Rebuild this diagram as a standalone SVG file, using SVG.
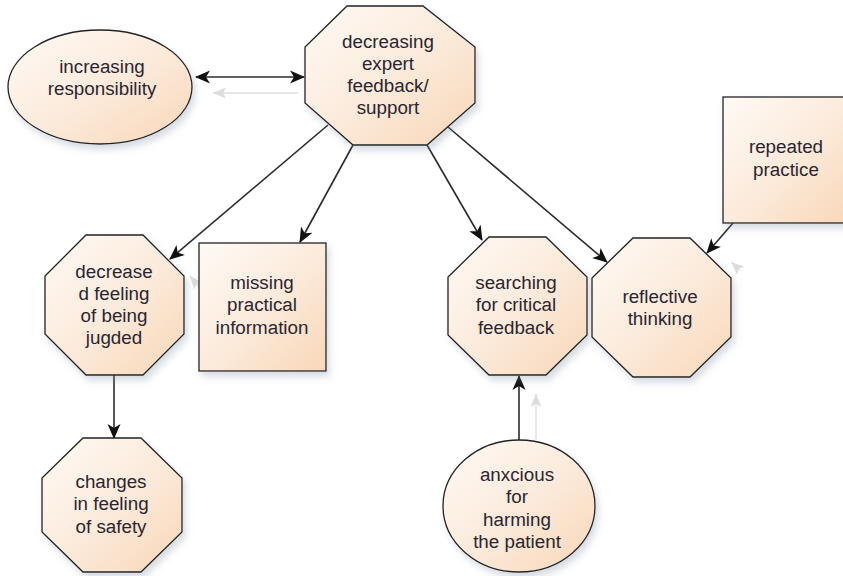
<svg xmlns="http://www.w3.org/2000/svg" width="843" height="576" viewBox="0 0 843 576">
<style>
  .node{fill:url(#peach);stroke:#222;stroke-width:1.3;filter:url(#shadow)}
  .lbl{font-family:"Liberation Sans",Arial,sans-serif;font-size:18.8px;fill:#2a2630;text-anchor:middle}
  .conn{stroke:#2b2b2b;stroke-width:1.6;fill:none}
  .ghost{stroke:#dcdcdc;stroke-width:1.3;fill:none}
</style>
<defs>
  <linearGradient id="peach" x1="0" y1="0" x2="1" y2="1">
    <stop offset="0" stop-color="#fefaf6"/>
    <stop offset="0.5" stop-color="#fcebdc"/>
    <stop offset="1" stop-color="#f8d7b8"/>
  </linearGradient>
  <filter id="shadow" x="-20%" y="-20%" width="150%" height="150%">
    <feDropShadow dx="3" dy="5" stdDeviation="3.5" flood-color="#7a8aa0" flood-opacity="0.3"/>
  </filter>
  <marker id="arr" markerUnits="userSpaceOnUse" markerWidth="16" markerHeight="14" viewBox="0 0 16 14" refX="14" refY="7" orient="auto-start-reverse">
    <path d="M0,0.5 L15,7 L0,13.5 L4,7 z" fill="#111"/>
  </marker>
  <marker id="garr" markerUnits="userSpaceOnUse" markerWidth="14" markerHeight="12" viewBox="0 0 14 12" refX="13" refY="6" orient="auto">
    <path d="M0,0.5 L13,6 L0,11.5 L3,6 z" fill="#dcdcdc"/>
  </marker>
</defs>
<rect width="843" height="576" fill="#ffffff"/>

<g id="connectors">
  <line class="ghost" x1="298" y1="93" x2="213" y2="93" marker-end="url(#garr)"/>
  <line class="ghost" x1="200" y1="288" x2="190" y2="276" marker-end="url(#garr)"/>
  <line class="ghost" x1="536" y1="440" x2="536" y2="394" marker-end="url(#garr)"/>
  <line class="ghost" x1="740" y1="270" x2="731" y2="262" marker-end="url(#garr)"/>

  <line class="conn" x1="196" y1="77" x2="304" y2="77" marker-start="url(#arr)" marker-end="url(#arr)"/>
  <line class="conn" x1="328" y1="125" x2="170" y2="259" marker-end="url(#arr)"/>
  <line class="conn" x1="353" y1="145" x2="300" y2="242" marker-end="url(#arr)"/>
  <line class="conn" x1="427" y1="145" x2="482" y2="240" marker-end="url(#arr)"/>
  <line class="conn" x1="448" y1="127" x2="607" y2="262" marker-end="url(#arr)"/>
  <line class="conn" x1="733" y1="223" x2="707" y2="253" marker-end="url(#arr)"/>
  <line class="conn" x1="114" y1="375" x2="114" y2="438" marker-end="url(#arr)"/>
  <line class="conn" x1="519" y1="440" x2="519" y2="376" marker-end="url(#arr)"/>
</g>

<g id="increasing-responsibility">
  <ellipse class="node" cx="100" cy="87" rx="92" ry="57"/>
  <text class="lbl" x="102" y="73">increasing</text>
  <text class="lbl" x="102" y="95">responsibility</text>
</g>

<g id="decreasing-expert-feedback">
  <polygon class="node" points="347,6 423,6 475,47 475,103 427,145 353,145 305,103 305,47"/>
  <text class="lbl" x="388" y="48">decreasing</text>
  <text class="lbl" x="388" y="70">expert</text>
  <text class="lbl" x="388" y="92">feedback/</text>
  <text class="lbl" x="388" y="114">support</text>
</g>

<g id="decreased-feeling-judged">
  <polygon class="node" points="86,235 143,235 184,276 184,334 143,375 86,375 45,334 45,276"/>
  <text class="lbl" x="114" y="278">decrease</text>
  <text class="lbl" x="114" y="300">d feeling</text>
  <text class="lbl" x="114" y="322">of being</text>
  <text class="lbl" x="114" y="344">jugded</text>
</g>

<g id="missing-practical-information">
  <rect class="node" x="199" y="243" width="127" height="128"/>
  <text class="lbl" x="262" y="289">missing</text>
  <text class="lbl" x="262" y="311">practical</text>
  <text class="lbl" x="262" y="334">information</text>
</g>

<g id="changes-feeling-safety">
  <polygon class="node" points="83,438 141,438 182,478 182,532 141,572 83,572 42,532 42,478"/>
  <text class="lbl" x="111" y="488">changes</text>
  <text class="lbl" x="111" y="510">in feeling</text>
  <text class="lbl" x="111" y="533">of safety</text>
</g>

<g id="searching-critical-feedback">
  <polygon class="node" points="489,237 546,237 587,277 587,335 546,375 489,375 448,335 448,277"/>
  <text class="lbl" x="516" y="289">searching</text>
  <text class="lbl" x="516" y="311">for critical</text>
  <text class="lbl" x="516" y="334">feedback</text>
</g>

<g id="reflective-thinking">
  <polygon class="node" points="633,238 690,238 731,278 731,337 690,377 633,377 592,337 592,278"/>
  <text class="lbl" x="660" y="303">reflective</text>
  <text class="lbl" x="660" y="325">thinking</text>
</g>

<g id="repeated-practice">
  <rect class="node" x="723" y="97" width="130" height="126"/>
  <text class="lbl" x="786" y="153">repeated</text>
  <text class="lbl" x="786" y="176">practice</text>
</g>

<g id="anxious-harming-patient">
  <ellipse class="node" cx="519" cy="506" rx="76" ry="66"/>
  <text class="lbl" x="517" y="481">anxcious</text>
  <text class="lbl" x="517" y="503">for</text>
  <text class="lbl" x="517" y="526">harming</text>
  <text class="lbl" x="517" y="548">the patient</text>
</g>
</svg>
